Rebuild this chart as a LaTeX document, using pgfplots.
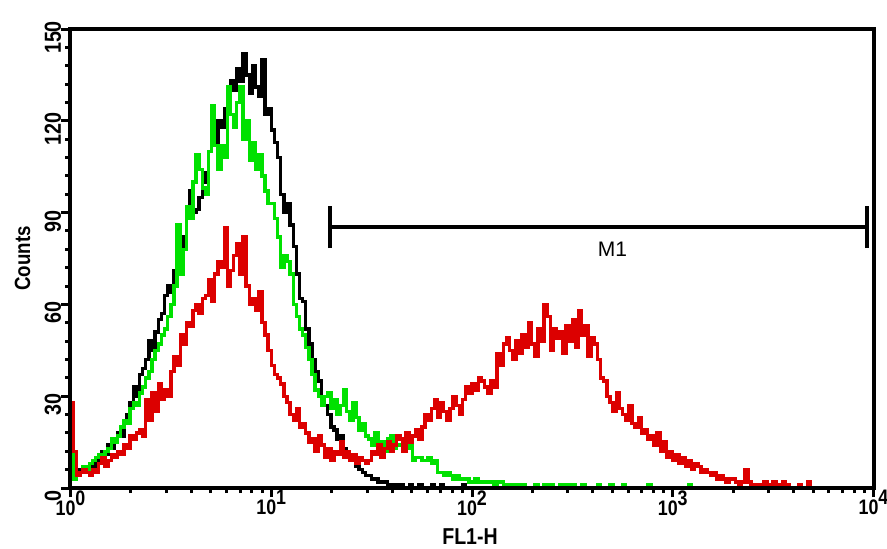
\documentclass[border=0pt]{standalone}
\usepackage{pgfplots}
\pgfplotsset{compat=1.18}
\usepackage{pgfplotstable}
\usepackage{fontspec}
\setmainfont{Liberation Sans}
\newfontfamily\narrowfont[FakeStretch=0.85]{Liberation Sans}

\definecolor{histblack}{RGB}{0,0,0}
\definecolor{histgreen}{RGB}{0,225,0}
\definecolor{histred}{RGB}{220,0,0}

% FL1-H histograms: 256 channels over four decades (64 channels per decade)
% c = channel, k = black trace, g = green trace, r = red trace (counts)
\pgfplotstableread{
c k g r
0 17 23 28
1 5 3 12
2 4 4 4
3 6 5 5
4 5 7 6
5 7 6 5
6 8 8 4
7 7 9 6
8 9 10 5
9 10 11 8
10 12 10 10
11 11 12 7
12 14 13 9
13 13 16 11
14 16 15 10
15 18 17 12
16 17 20 11
17 21 22 14
18 24 21 13
19 28 26 17
20 33 28 16
21 30 27 18
22 37 31 19
23 39 33 17
24 42 36 29
25 48 38 22
26 45 42 31
27 51 45 25
28 55 47 34
29 57 50 29
30 63 52 32
31 66 56 30
32 64 60 38
33 71 66 43
34 75 86 40
35 73 70 50
36 82 78 47
37 92 92 54
38 97 88 53
39 90 100 58
40 91 109 60
41 95 104 57
42 103 98 62
43 100 96 63
44 110 110 68
45 117 125 61
46 112 112 70
47 120 104 74
48 118 112 72
49 124 108 85
50 128 131 66
51 133 122 71
52 130 118 76
53 137 126 80
54 133 131 70
55 142 114 82
56 135 120 66
57 129 107 60
58 138 113 62
59 131 104 58
60 128 109 64
61 140 102 54
62 122 97 50
63 124 93 45
64 117 93 40
65 113 88 37
66 108 82 36
67 96 72 34
68 90 76 30
69 93 74 28
70 86 70 24
71 79 60 22
72 70 56 26
73 62 52 20
74 61 50 21
75 52 46 18
76 47 42 15
77 42 37 16
78 38 32 12
79 35 30 17
80 30 27 14
81 27 30 10
82 24 31 13
83 20 26 9
84 19 29 12
85 16 24 11
86 17 27 15
87 13 32 10
88 12 25 12
89 10 22 9
90 9 28 11
91 7 23 8
92 6 19 10
93 5 21 9
94 4 17 8
95 4 16 9
96 3 14 12
97 3 18 11
98 2 13 14
99 2 15 10
100 2 12 13
101 1 16 15
102 1 17 12
103 1 13 14
104 0 14 17
105 1 14 16
106 0 12 12
107 0 13 18
108 1 14 15
109 0 9 17
110 0 10 19
111 1 10 16
112 0 9 20
113 0 9 24
114 0 10 22
115 1 8 26
116 0 9 29
117 0 5 23
118 1 5 28
119 0 4 25
120 0 5 22
121 0 4 26
122 0 3 30
123 0 4 27
124 0 3 24
125 1 3 29
126 0 3 33
127 0 2 31
128 0 2 34
129 0 3 32
130 0 2 36
131 0 2 35
132 0 2 33
133 0 2 31
134 0 2 35
135 0 1 33
136 0 2 44
137 0 2 40
138 0 1 47
139 0 1 49
140 0 1 45
141 0 1 42
142 0 1 48
143 0 0 44
144 0 1 50
145 0 0 46
146 0 0 54
147 0 0 47
148 0 1 43
149 0 0 52
150 0 0 48
151 0 1 60
152 1 0 56
153 0 1 45
154 0 0 52
155 0 0 49
156 0 1 51
157 0 0 44
158 0 1 53
159 0 0 48
160 0 1 55
161 0 0 46
162 0 0 58
163 0 1 50
164 0 0 53
165 0 0 43
166 0 0 49
167 0 0 47
168 0 1 42
169 0 0 36
170 0 0 35
171 0 0 30
172 0 1 28
173 0 0 25
174 0 0 31
175 0 0 26
176 0 1 24
177 0 0 22
178 0 0 27
179 0 0 21
180 0 0 20
181 0 0 23
182 0 0 18
183 0 0 19
184 1 1 16
185 0 0 17
186 0 0 14
187 0 0 18
188 0 0 12
189 0 0 15
190 0 0 10
191 0 0 12
192 0 0 9
193 0 0 11
194 0 0 8
195 0 0 10
196 0 0 7
197 0 1 9
198 0 0 6
199 0 0 8
200 0 0 7
201 0 0 5
202 0 0 6
203 0 0 5
204 0 0 4
205 0 0 5
206 0 0 3
207 0 0 4
208 0 0 3
209 0 0 2
210 0 0 3
211 0 0 3
212 0 0 2
213 0 0 1
214 0 0 2
215 0 0 6
216 0 0 2
217 0 0 1
218 0 0 1
219 0 0 0
220 0 0 1
221 0 0 2
222 0 0 1
223 0 0 1
224 0 0 2
225 0 0 1
226 0 0 1
227 0 0 2
228 0 0 1
229 0 0 0
230 0 0 0
231 0 0 0
232 0 0 1
233 0 0 0
234 0 0 0
235 0 0 2
236 0 0 0
240 0 0 0
}\histdata

\newcommand{\decade}[1]{10\raisebox{5pt}{#1}}

\begin{document}
\begin{tikzpicture}
\path[use as bounding box] (-35.25pt,-30pt) rectangle (408.25pt,244pt);
\begin{axis}[
  at={(0,0)}, anchor=south west,
  width=401.5pt, height=229.5pt, scale only axis,
  xmin=0, xmax=256, ymin=0, ymax=150,
  axis on top,
  axis line style={line width=2pt},
  xtick pos=bottom, ytick pos=left,
  tick align=outside,
  major tick length=4.5pt, minor tick length=2.5pt,
  tick style={black, line width=1.5pt},
  xtick={0,64,128,192,256},
  xticklabels={\decade{0},\decade{1},\decade{2},\decade{3},\decade{4}},
  minor xtick={19.27,30.54,38.53,44.73,49.80,54.09,57.80,61.07,
               83.27,94.54,102.53,108.73,113.80,118.09,121.80,125.07,
               147.27,158.54,166.53,172.73,177.80,182.09,185.80,189.07,
               211.27,222.54,230.53,236.73,241.80,246.09,249.80,253.07},
  ytick={0,30,60,90,120,150},
  yticklabels={0,30,60,90,120,150},
  minor ytick={6,12,18,24,36,42,48,54,66,72,78,84,96,102,108,114,126,132,138,144},
  xticklabel style={font=\narrowfont\bfseries\fontsize{10.5}{10.5}\selectfont,
                    inner sep=0pt, anchor=north, yshift=3.5pt},
  yticklabel style={font=\narrowfont\bfseries\fontsize{11.6}{11.6}\selectfont,
                    inner sep=0pt, rotate=90, anchor=south, xshift=-4.25pt},
  xlabel={FL1-H},
  ylabel={Counts},
  xlabel style={font=\narrowfont\bfseries\fontsize{11.5}{11.5}\selectfont,
                at={(axis description cs:0.4975,-0.1057)}, anchor=center},
  ylabel style={font=\narrowfont\bfseries\fontsize{11}{11}\selectfont,
                at={(axis description cs:-0.0598,0.5)}, anchor=center},
]
\addplot[const plot, histblack, line width=1.7pt] table[x=c, y=k] {\histdata};
\addplot[const plot, histgreen, line width=1.7pt] table[x=c, y=g] {\histdata};
\addplot[const plot, histred, line width=1.7pt] table[x=c, y=r] {\histdata};
% M1 marker gate
\addplot[black, line width=1.6pt] coordinates {(82.7,85.3) (253.9,85.3)};
\addplot[black, line width=1.6pt] coordinates {(82.7,78.4) (82.7,92.2)};
\addplot[black, line width=1.6pt] coordinates {(253.9,78.4) (253.9,92.2)};
\node[font=\fontsize{10.5}{10.5}\selectfont, inner sep=0pt] at (axis cs:172.8,77.9) {M1};
\end{axis}
\end{tikzpicture}
\end{document}
